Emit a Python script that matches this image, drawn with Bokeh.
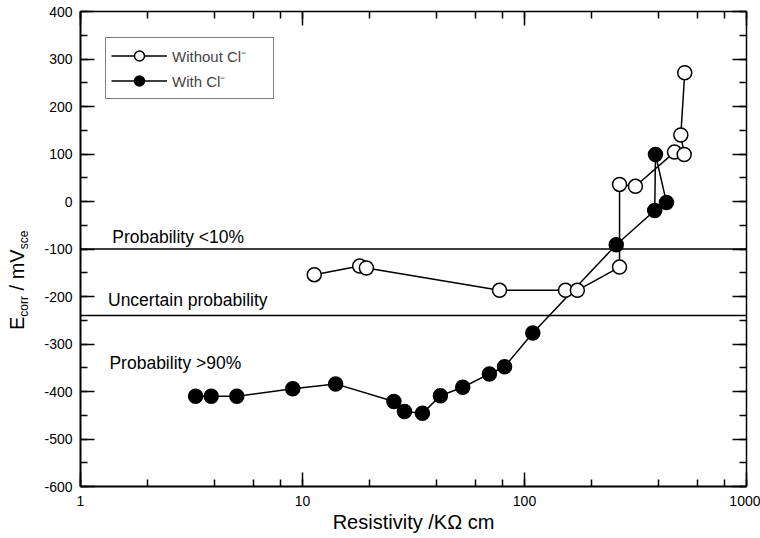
from bokeh.plotting import figure
from bokeh.layouts import row
from bokeh.models import (LogAxis, LinearAxis, Span, Label, Legend, LegendItem, Div,
                          SingleIntervalTicker, LogTicker, LogTickFormatter, Range1d)
from bokeh.embed import file_html
from bokeh.resources import INLINE

# ---- data ----
res_without = [11.3, 18.1, 19.4, 77.2, 153, 173, 268, 268, 316, 474, 524, 506, 527]
ecorr_without = [-154, -136, -140, -187, -187, -187, -138, 36, 32, 104, 99, 140, 271]

res_with = [3.30, 3.88, 5.06, 9.04, 14.1, 25.8, 28.8, 34.7, 41.8, 52.7, 69.5, 81.3,
            109, 259, 386, 389, 436]
ecorr_with = [-410, -410, -410, -394, -384, -421, -442, -446, -409, -391, -363, -348,
              -277, -91, -19, 99, -2]

thresholds = [-100, -240]
zone_texts = ["Probability <10%", "Uncertain probability", "Probability >90%"]
series_names = ["Without Cl\u207b", "With Cl\u207b"]
y_ticks = [-600, -500, -400, -300, -200, -100, 0, 100, 200, 300, 400]
y_tick_labels = ["-600", "-500", "-400", "-300", "-200", "-100", "0", "100", "200", "300", "400"]
x_title = "Resistivity /K\u03a9 cm"
y_title_parts = ["E", "corr", " / mV", "sce"]

FONT = "Liberation Sans"
TITLE_W = 34

fig = figure(x_axis_type="log", x_range=Range1d(1, 1000), y_range=Range1d(-600, 400),
             frame_width=666, frame_height=475,
             min_border_left=80 - TITLE_W, min_border_right=14, min_border_top=11,
             min_border_bottom=52, output_backend="svg", toolbar_location=None)
fig.xgrid.visible = False
fig.ygrid.visible = False
fig.outline_line_color = None
fig.background_fill_color = "white"
fig.border_fill_color = "white"


def style_axis(ax, lw, show_labels):
    ax.major_tick_in = 14
    ax.major_tick_out = 0
    ax.minor_tick_in = 7
    ax.minor_tick_out = 0
    ax.axis_line_width = lw
    ax.axis_line_color = "black"
    ax.major_tick_line_color = "black"
    ax.minor_tick_line_color = "black"
    ax.major_tick_line_width = 1.5
    ax.minor_tick_line_width = 1.5
    if show_labels:
        ax.major_label_text_font = FONT
        ax.major_label_text_font_size = "14px"
        ax.major_label_text_color = "black"
    else:
        ax.major_label_text_font_size = "1px"
        ax.major_label_text_color = None
        ax.major_label_standoff = 0


xa = fig.xaxis[0]
xa.ticker = LogTicker()
xa.formatter = LogTickFormatter(min_exponent=4)
style_axis(xa, 2, True)
xa.major_label_standoff = 9
xa.axis_label = x_title
xa.axis_label_text_font = FONT
xa.axis_label_text_font_size = "20px"
xa.axis_label_text_font_style = "normal"
xa.axis_label_text_color = "black"
xa.axis_label_standoff = 2

ya = fig.yaxis[0]
ya.ticker = SingleIntervalTicker(interval=100, num_minor_ticks=2)
ya.major_label_overrides = {t: s for t, s in zip(y_ticks, y_tick_labels)}
style_axis(ya, 2, True)
ya.major_label_standoff = 8

top = LogAxis(ticker=LogTicker())
style_axis(top, 1.5, False)
fig.add_layout(top, "above")

right = LinearAxis(ticker=SingleIntervalTicker(interval=100, num_minor_ticks=2))
style_axis(right, 1.5, False)
fig.add_layout(right, "right")

for t in thresholds:
    fig.add_layout(Span(location=t, dimension="width", line_color="black", line_width=1.5))

# series
l1 = fig.line(res_without, ecorr_without, line_color="black", line_width=1.5)
l2 = fig.line(res_with, ecorr_with, line_color="black", line_width=1.5)
s1 = fig.scatter(res_without, ecorr_without, size=14, fill_color="white",
                 line_color="black", line_width=1.5)
s2 = fig.scatter(res_with, ecorr_with, size=14, fill_color="black",
                 line_color="black", line_width=1.5)

# zone texts
for txt, xx, yy in zip(zone_texts, [1.39, 1.33, 1.35], [-74, -208, -339]):
    fig.add_layout(Label(x=xx, y=yy, text=txt, text_font=FONT, text_font_size="17.5px",
                         text_baseline="alphabetic", text_align="left", text_color="black"))

# legend
legend = Legend(items=[LegendItem(label=series_names[0], renderers=[l1, s1]),
                       LegendItem(label=series_names[1], renderers=[l2, s2])],
                location=(25, 387), border_line_color="black", border_line_width=1.5,
                padding=5, spacing=0, glyph_width=56, glyph_height=25,
                label_height=25, label_width=96, label_standoff=5,
                label_text_font=FONT, label_text_font_size="15px",
                background_fill_color="white", background_fill_alpha=1.0)
fig.add_layout(legend)

# y title with subscripts (real HTML text, rotated)
sub_style = "font-size:12px; line-height:0; vertical-align:-4px;"
y_html = (
    '<div style="position:relative; left:7px; top:330px; width:200px; '
    'transform:rotate(-90deg); transform-origin:0 0; white-space:nowrap; '
    "font-family:'Liberation Sans'; font-size:20px; line-height:20px; color:black;\">"
    f'{y_title_parts[0]}<sub style="{sub_style}">{y_title_parts[1]}</sub>'
    f'{y_title_parts[2].replace(" ", "&nbsp;", 1)}<sub style="{sub_style}">{y_title_parts[3]}</sub></div>'
)
ytitle = Div(text=y_html, width=TITLE_W, height=538, margin=0,
             styles={"overflow": "visible", "background-color": "white"})

p = row(ytitle, fig, spacing=0)

open("out.html", "w").write(file_html(p, INLINE))
